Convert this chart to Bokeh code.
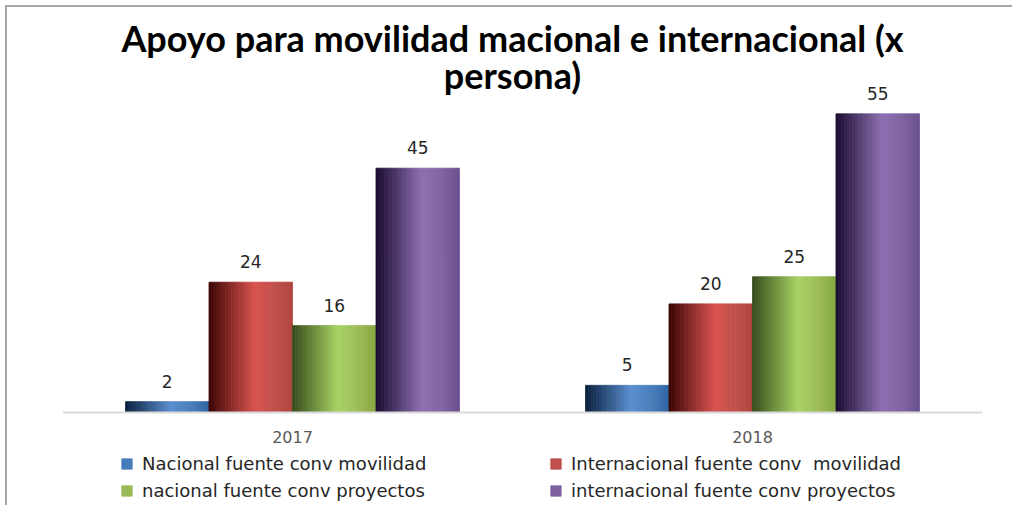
from bokeh.plotting import figure
from bokeh.models import (ColumnDataSource, Legend, LegendItem, FixedTicker, Range1d,
                          LabelSet, Label)
from bokeh.core.properties import value
from bokeh.embed import file_html
from bokeh.resources import INLINE

# ---- data ----
years = ["2017", "2018"]
title_lines = ["Apoyo para movilidad macional e internacional (x", "persona)"]
series_names = [
    "Nacional fuente conv movilidad",
    "Internacional fuente conv  movilidad",
    "nacional fuente conv proyectos",
    "internacional fuente conv proyectos",
]
nacional_movilidad = [2, 5]
internacional_movilidad = [24, 20]
nacional_proyectos = [16, 25]
internacional_proyectos = [45, 55]
series_values = [nacional_movilidad, internacional_movilidad, nacional_proyectos, internacional_proyectos]

# gradient stops per series: (position, colour) -- cylinder-like shading
gradients = [
    [(0.0, "#0a1f3c"), (0.55, "#5a8fd0"), (0.8, "#4a7ebb"), (1.0, "#2f64a3")],
    [(0.0, "#3a0404"), (0.55, "#d9534f"), (0.8, "#c0504d"), (1.0, "#b0443f")],
    [(0.0, "#364c1c"), (0.55, "#a9d264"), (0.8, "#9bbb59"), (1.0, "#86a83f")],
    [(0.0, "#1a0b30"), (0.55, "#8d6fb1"), (0.8, "#8064a2"), (1.0, "#6a4f8e")],
]


def hex2rgb(h):
    h = h.lstrip("#")
    return tuple(int(h[i:i + 2], 16) for i in (0, 2, 4))


def interp(stops, t):
    for (p0, c0), (p1, c1) in zip(stops[:-1], stops[1:]):
        if p0 <= t <= p1:
            f = (t - p0) / (p1 - p0) if p1 > p0 else 0
            a, b = hex2rgb(c0), hex2rgb(c1)
            return "#%02x%02x%02x" % tuple(int(round(a[k] + (b[k] - a[k]) * f)) for k in range(3))
    return stops[-1][1]


W, H = 1007, 500
p = figure(width=W, height=H, output_backend="svg", toolbar_location=None,
           x_range=Range1d(-0.5, 1.5), y_range=Range1d(-17.5, 74.59),
           min_border_left=55, min_border_right=32, min_border_top=0, min_border_bottom=0)
p.styles = {"margin-top": "5px", "margin-left": "5px",
            "border-top": "2px solid #a6a6a6", "border-left": "2px solid #a6a6a6"}

# title: two centred lines
for txt, yy in zip(title_lines, [470, 433]):
    p.add_layout(Label(x=450, y=yy, x_units="screen", y_units="screen", text=txt,
                       text_align="center", text_baseline="alphabetic", text_font="Lato",
                       text_font_size="36px", text_font_style="bold", text_color="#000000"))

bar_w = 0.1815
offsets = [-1.5 * bar_w, -0.5 * bar_w, 0.5 * bar_w, 1.5 * bar_w]
N = 30

renderers = []
for s, (vals, stops) in enumerate(zip(series_values, gradients)):
    xs, tops, cols = [], [], []
    for g, v in enumerate(vals):
        c = g + offsets[s]
        for i in range(N):
            t = (i + 0.5) / N
            xs.append(c - bar_w / 2 + t * bar_w)
            tops.append(v)
            cols.append(interp(stops, t))
    src = ColumnDataSource(dict(x=xs, top=tops, color=cols))
    r = p.vbar(x="x", top="top", bottom=0, width=bar_w / N, source=src,
               fill_color="color", line_color="color", line_width=0.8)
    renderers.append(r)

    lab = ColumnDataSource(dict(x=[g + offsets[s] for g in range(len(vals))], y=vals,
                                t=[str(v) for v in vals]))
    p.add_layout(LabelSet(x="x", y="y", text="t", source=lab, text_align="center",
                          text_baseline="alphabetic", y_offset=14,
                          text_font=value("DejaVu Sans"), text_font_size=value("17px"),
                          text_color="#262626"))

# axes
p.yaxis.visible = False
p.xgrid.visible = False
p.ygrid.visible = False
p.outline_line_color = None
p.xaxis.fixed_location = 0
p.xaxis.ticker = FixedTicker(ticks=[0, 1])
p.xaxis.major_label_overrides = {0: years[0], 1: years[1]}
p.xaxis.major_tick_line_color = None
p.xaxis.minor_tick_line_color = None
p.xaxis.axis_line_color = "#d9d9d9"
p.xaxis.axis_line_width = 2
p.xaxis.major_label_text_font = "DejaVu Sans"
p.xaxis.major_label_text_font_size = "16px"
p.xaxis.major_label_text_color = "#595959"
p.xaxis.major_label_standoff = 13

# legend: two rows x two columns below the axis
order = [0, 2, 1, 3]
legend_items = [LegendItem(label=series_names[k], renderers=[renderers[k]], index=int(0.8 * N))
                for k in order]
legend = Legend(items=legend_items, ncols=2, location=(58, 6),
                label_text_font="DejaVu Sans", label_text_font_size="18px",
                label_text_color="#262626", glyph_width=13, glyph_height=13,
                label_width=401, spacing=6, label_standoff=9, padding=0, margin=0,
                border_line_color=None, background_fill_alpha=0, label_height=20)
p.add_layout(legend, "center")

open("out.html", "w").write(file_html(p, INLINE))
